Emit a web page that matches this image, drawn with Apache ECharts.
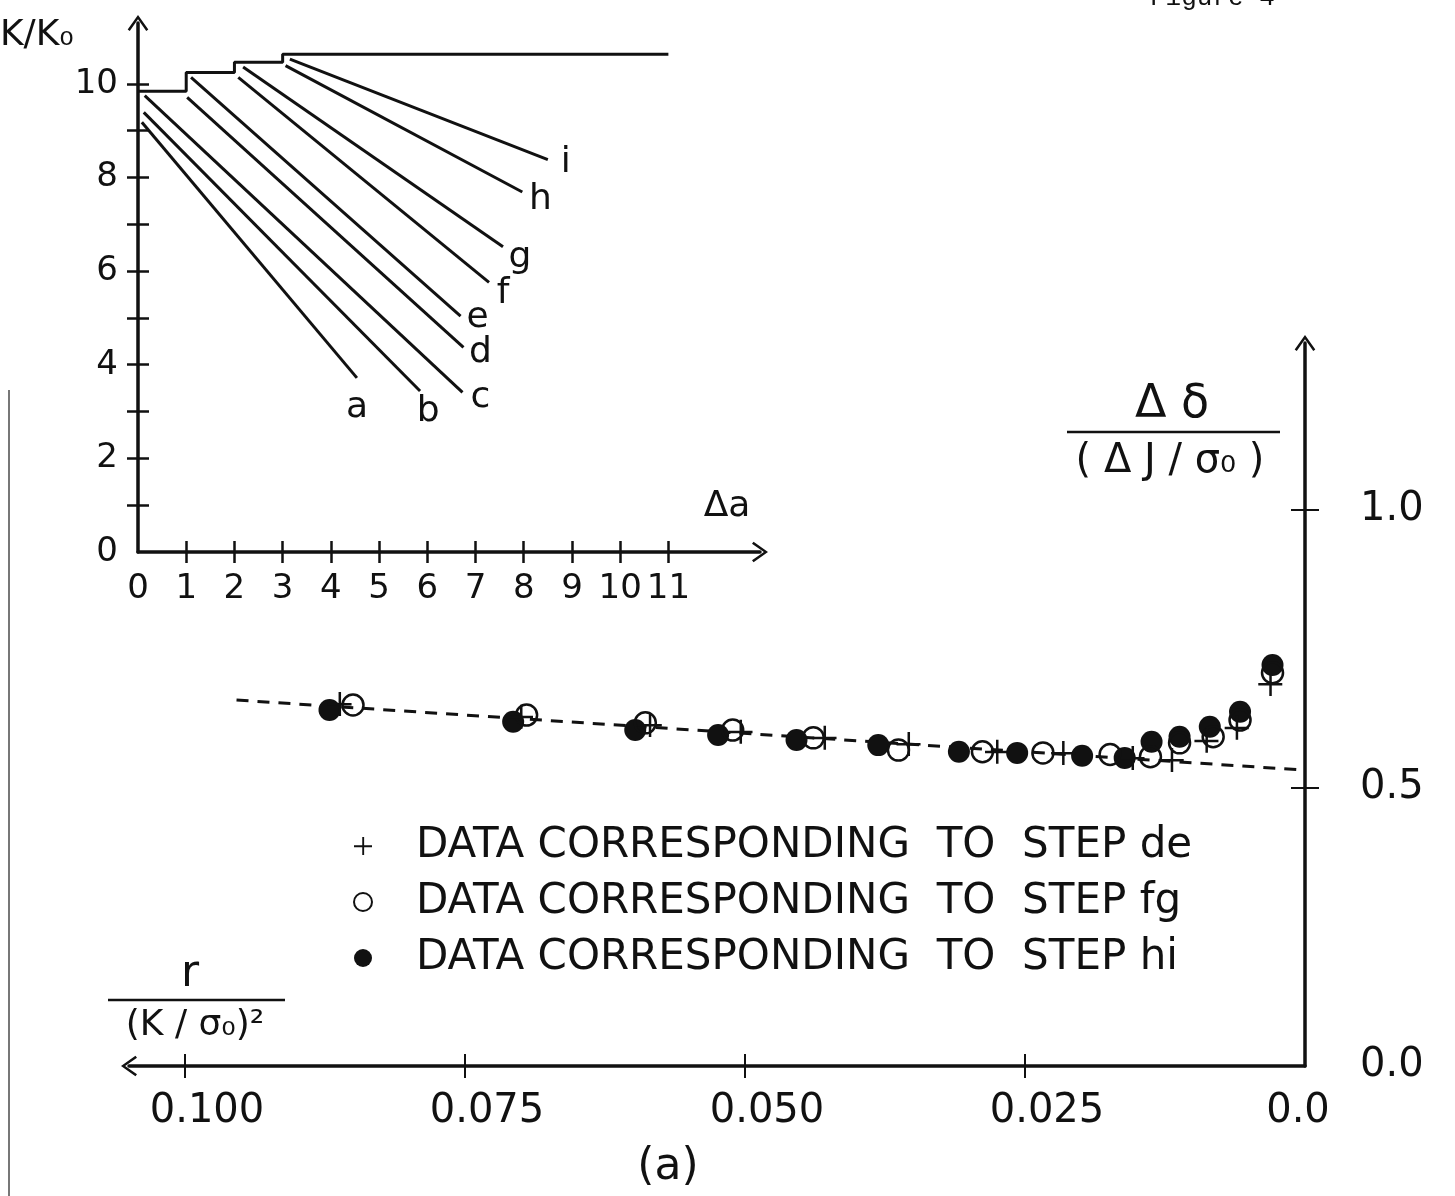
<!DOCTYPE html>
<html lang="en">
<head>
<meta charset="UTF-8">
<title>Figure 4 (a)</title>
<script src="https://cdn.jsdelivr.net/npm/echarts@6/dist/echarts.min.js"></script>
</head>
<body style="margin:0;background:#fff;">
<div id="main" style="width:1455px;height:1196px;"></div>
<script>
// main plot: r/(K/σ0)^2  vs  Δδ/(ΔJ/σ0)
var deR = [0.0862, 0.0700, 0.0585, 0.0504, 0.0429, 0.0354, 0.0275, 0.0216, 0.0154, 0.0119, 0.0088, 0.0061, 0.0031];
var deY = [0.651, 0.628, 0.613, 0.601, 0.590, 0.579, 0.565, 0.563, 0.554, 0.550, 0.585, 0.608, 0.687];
var fgR = [0.0850, 0.0695, 0.0589, 0.0511, 0.0439, 0.0363, 0.0288, 0.0234, 0.0174, 0.0138, 0.0112, 0.0082, 0.0058, 0.0029];
var fgY = [0.649, 0.631, 0.617, 0.604, 0.590, 0.568, 0.565, 0.563, 0.560, 0.556, 0.581, 0.592, 0.622, 0.707];
var hiR = [0.0871, 0.0707, 0.0598, 0.0524, 0.0454, 0.0381, 0.0309, 0.0257, 0.0199, 0.0161, 0.0137, 0.0112, 0.0085, 0.0058, 0.0029];
var hiY = [0.640, 0.619, 0.604, 0.595, 0.586, 0.577, 0.565, 0.563, 0.558, 0.554, 0.583, 0.592, 0.610, 0.637, 0.721];
// dashed straight line through the data
var fitR = [0.0954, 0];
var fitY = [0.658, 0.532];

var rTicks = [0.025, 0.05, 0.075, 0.1];
var rLabels = [0, 0.025, 0.05, 0.075, 0.1];
var yTicks = [0, 0.5, 1.0];

var legendNames = [
    'DATA CORRESPONDING  TO  STEP de',
    'DATA CORRESPONDING  TO  STEP fg',
    'DATA CORRESPONDING  TO  STEP hi'
];

// inset: K/K0 vs Δa
var stepDa = [0, 1, 1, 2, 2, 3, 3, 11];
var stepK = [9.84, 9.84, 10.24, 10.24, 10.46, 10.46, 10.63, 10.63];
var lineNames = ['a', 'b', 'c', 'd', 'e', 'f', 'g', 'h', 'i'];
var lineDa0 = [0.08, 0.12, 0.14, 1.02, 1.10, 2.08, 2.18, 3.06, 3.15];
var lineK0 = [9.18, 9.39, 9.75, 9.71, 10.14, 10.14, 10.36, 10.39, 10.53];
var lineDa1 = [4.54, 5.85, 6.73, 6.75, 6.69, 7.28, 7.57, 7.97, 8.50];
var lineK1 = [3.72, 3.44, 3.41, 4.37, 5.04, 5.76, 6.52, 7.69, 8.38];
var daLabels = [0, 1, 2, 3, 4, 5, 6, 7, 8, 9, 10, 11];
var daTicks = [1, 2, 3, 4, 5, 6, 7, 8, 9, 10, 11];
var kLabels = [0, 2, 4, 6, 8, 10];
var kTicks = [1, 2, 3, 4, 5, 6, 7, 8, 9, 10];

var INK = '#111';
var FONT = '"DejaVu Sans", sans-serif';
var ARROW = 'path://M10,0 L20,14 L18,15.5 L10,4 L2,15.5 L0,14 Z';
var PLUS = 'path://M11,0 H13.5 V11 H24 V13.5 H13.5 V24 H11 V13.5 H0 V11 H11 Z';

// where the letter sits relative to the end of each inset line
var letterOffset = {
    a: [0, 30], b: [8, 21], c: [18, 5], d: [17, 5], e: [17, 2],
    f: [14, 11], g: [17, 11], h: [18, 8], i: [18, 3]
};

function pairs(xs, ys) {
    return xs.map(function (x, i) { return [x, ys[i]]; });
}

var series = [
    {
        type: 'line', xAxisIndex: 0, yAxisIndex: 0, silent: true,
        data: pairs(fitR, fitY), showSymbol: false, z: 1,
        lineStyle: { color: INK, width: 3, type: [12, 9] }
    },
    {
        name: legendNames[0], type: 'scatter', xAxisIndex: 0, yAxisIndex: 0,
        data: pairs(deR, deY), symbol: PLUS, symbolSize: 24, z: 4,
        itemStyle: { color: INK, opacity: 1 }
    },
    {
        name: legendNames[1], type: 'scatter', xAxisIndex: 0, yAxisIndex: 0,
        data: pairs(fgR, fgY), symbol: 'circle', symbolSize: 21, z: 3,
        itemStyle: { color: 'transparent', borderColor: INK, borderWidth: 2.5, opacity: 1 }
    },
    {
        name: legendNames[2], type: 'scatter', xAxisIndex: 0, yAxisIndex: 0,
        data: pairs(hiR, hiY), symbol: 'circle', symbolSize: 22, z: 2,
        itemStyle: { color: INK, opacity: 1 }
    },
    {
        type: 'line', xAxisIndex: 1, yAxisIndex: 1, silent: true,
        data: pairs(stepDa, stepK), showSymbol: false,
        lineStyle: { color: INK, width: 3 }
    }
];

lineNames.forEach(function (nm, i) {
    series.push({
        name: nm, type: 'line', xAxisIndex: 1, yAxisIndex: 1, silent: true,
        symbol: 'circle', symbolSize: 0.1,
        lineStyle: { color: INK, width: 3 },
        itemStyle: { color: INK },
        data: [
            [lineDa0[i], lineK0[i]],
            {
                value: [lineDa1[i], lineK1[i]],
                label: {
                    show: true, formatter: nm, position: 'inside',
                    offset: letterOffset[nm], color: INK, fontSize: 36, fontFamily: FONT
                }
            }
        ]
    });
});

function axisBase(arrowAtMax) {
    return {
        type: 'value',
        axisLine: {
            onZero: false,
            lineStyle: { color: INK, width: 3.5 },
            symbol: arrowAtMax ? ['none', ARROW] : [ARROW, 'none'],
            symbolSize: [22, 16]
        },
        splitLine: { show: false }
    };
}

// second copy of an axis that only draws the inner half of the ticks,
// so the tick marks cross the axis line as in the drawing
function innerTicks(ax) {
    return {
        type: 'value', gridIndex: ax.gridIndex, position: ax.position,
        min: ax.min, max: ax.max, inverse: !!ax.inverse,
        axisLine: { show: false, onZero: false },
        axisLabel: { show: false },
        splitLine: { show: false },
        axisTick: {
            inside: true, customValues: ax.axisTick.customValues,
            length: ax.axisTick.length, lineStyle: ax.axisTick.lineStyle
        }
    };
}

var mainX = Object.assign(axisBase(false), {
    gridIndex: 0, position: 'bottom', inverse: true, min: 0, max: 0.105,
    axisTick: { customValues: rTicks, length: 12, lineStyle: { color: INK, width: 2 } },
    axisLabel: {
        customValues: rLabels, margin: 26, color: INK, fontSize: 40, fontFamily: FONT,
        formatter: function (v) { return v === 0 ? '{z|0.0}' : '{n|' + v.toFixed(3) + '}'; },
        rich: {
            n: { fontSize: 40, fontFamily: FONT, color: INK, padding: [0, 0, 0, 44] },
            z: { fontSize: 40, fontFamily: FONT, color: INK, padding: [0, 14, 0, 0] }
        }
    }
});

var mainY = Object.assign(axisBase(true), {
    gridIndex: 0, position: 'right', min: 0, max: 1.3,
    axisTick: { customValues: [0.5, 1.0], length: 14, lineStyle: { color: INK, width: 2 } },
    axisLabel: {
        customValues: yTicks, margin: 55, color: INK, fontSize: 40, fontFamily: FONT,
        formatter: function (v) { return v.toFixed(1); }
    }
});

var insetX = Object.assign(axisBase(true), {
    gridIndex: 1, position: 'bottom', min: 0, max: 12.9,
    axisTick: { customValues: daTicks, length: 11, lineStyle: { color: INK, width: 2.5 } },
    axisLabel: { customValues: daLabels, margin: 20, color: INK, fontSize: 34, fontFamily: FONT }
});

var insetY = Object.assign(axisBase(true), {
    gridIndex: 1, position: 'left', min: 0, max: 11.3,
    axisTick: { customValues: kTicks, length: 11, lineStyle: { color: INK, width: 2.5 } },
    axisLabel: { customValues: kLabels, margin: 20, color: INK, fontSize: 34, fontFamily: FONT }
});

function txt(x, y, s, size, align, family) {
    return {
        type: 'text', x: x, y: y, z: 10,
        style: {
            text: s, fill: INK, font: size + 'px ' + (family || FONT),
            align: align || 'center', verticalAlign: 'middle'
        }
    };
}
function rule(x1, y1, x2, y2, w, col) {
    return {
        type: 'line', z: 10,
        shape: { x1: x1, y1: y1, x2: x2, y2: y2 },
        style: { stroke: col || INK, lineWidth: w }
    };
}

var option = {
    backgroundColor: '#fff',
    animation: false,
    grid: [
        { left: 129, right: 150, top: 343, bottom: 130 },
        { left: 138, right: 695, top: 23, bottom: 644 }
    ],
    xAxis: [mainX, insetX, innerTicks(mainX), innerTicks(insetX)],
    yAxis: [mainY, insetY, innerTicks(mainY), innerTicks(insetY)],
    legend: {
        data: legendNames,
        orient: 'vertical',
        left: 348, top: 819,
        itemWidth: 96, itemHeight: 18, itemGap: 12,
        selectedMode: false,
        textStyle: { color: INK, fontSize: 42, fontFamily: FONT, lineHeight: 44 }
    },
    graphic: [
        txt(1172, 405, 'Δ δ', 46),
        rule(1067, 432, 1280, 432, 2.5),
        txt(1170, 462, '( Δ J / σ₀ )', 40),
        txt(190, 975, 'r', 44),
        rule(108, 1000, 285, 1000, 2.5),
        txt(195, 1026, '(K / σ₀)²', 36),
        txt(0, 36, 'K/K₀', 36, 'left'),
        txt(727, 507, 'Δa', 36),
        txt(668, 1168, '(a)', 44),
        txt(1150, -2, 'Figure 4', 26, 'left', '"Liberation Mono", monospace'),
        rule(9, 390, 9, 1196, 2, '#777')
    ],
    series: series
};

var myChart = echarts.init(document.getElementById('main'));
myChart.setOption(option);
</script>
</body>
</html>
